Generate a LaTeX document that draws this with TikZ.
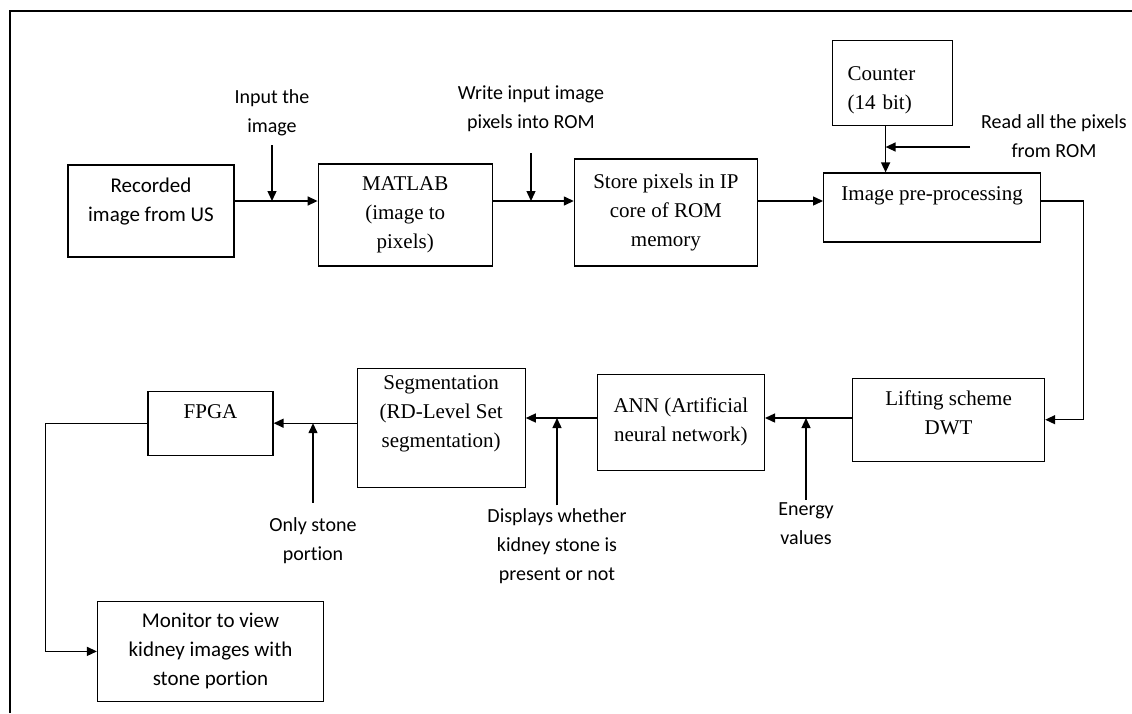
\documentclass[tikz,border=0pt]{standalone}
\usepackage{fontspec}
\setmainfont{Liberation Serif}
\newfontfamily\calibri[Ligatures=NoCommon]{Carlito}
\usetikzlibrary{arrows.meta, positioning}

\begin{document}
\begin{tikzpicture}[
        x=1pt, y=-1pt,
        font=\fontsize{21}{29}\selectfont,
        block/.style={rectangle, draw, line width=1.2pt, align=center, inner sep=3pt},
        sblock/.style={block, font=\calibri\fontsize{21}{29}\selectfont},
        note/.style={align=center, inner sep=3pt, font=\calibri\fontsize{20}{29}\selectfont},
        line/.style={draw, line width=1.4pt, -{Triangle[length=10pt, width=9pt]}}
        ]
        \useasboundingbox (0,0) rectangle (1132,713);
        % Frame
        \draw[line width=2pt] (10,713) -- (10,11) -- (1132,11);

        % Nodes
        \node [sblock, minimum width=166pt, minimum height=92pt, text depth=23pt] (rec) at (151,211) {Recorded\\image from US};
        \node [block, minimum width=174pt, minimum height=102pt, right=83pt of rec, yshift=-4pt] (mat) {MATLAB\\(image to\\pixels)};
        \node [block, minimum width=183pt, minimum height=107pt, right=81pt of mat, yshift=2.5pt] (store) {Store pixels in IP\\core of ROM\\memory};
        \node [block, minimum width=217pt, minimum height=69pt, text depth=28pt, right=65pt of store, yshift=5pt] (pre) {Image pre-processing};
        \node [block, minimum width=120pt, minimum height=85pt, text width=90pt, align=left, inner xsep=15pt, text depth=20pt, above=46pt of pre, xshift=-39.5pt] (cnt) {Counter\\(14 bit)};
        \node [block, minimum width=192pt, minimum height=83pt, text depth=15pt, below=135pt of pre, xshift=16.5pt] (lift) {Lifting scheme\\DWT};
        \node [block, minimum width=167pt, minimum height=96pt, left=87pt of lift, yshift=-2.5pt] (ann) {ANN (Artificial\\neural network)};
        \node [block, minimum width=168pt, minimum height=119pt, text depth=32pt, left=71pt of ann, yshift=-5.5pt] (seg) {Segmentation\\(RD-Level Set\\segmentation)};
        \node [block, minimum width=125pt, minimum height=64pt, text depth=24pt, left=83pt of seg, yshift=4.5pt] (fpga) {FPGA};
        \node [sblock, minimum width=226pt, minimum height=100pt, below=145pt of fpga] (mon) {Monitor to view\\kidney images with\\stone portion};

        % Labels
        \node [note] (inlab) at (272,113) {Input the\\image};
        \node [note] (wlab) at (531,109) {Write input image\\pixels into ROM};
        \node [note] (rlab) at (1054,136) {Read all the pixels\\from ROM};
        \node [note] (elab) at (806,524) {Energy\\values};
        \node [note] (dlab) at (557,546) {Displays whether\\kidney stone is\\present or not};
        \node [note] (olab) at (313,541) {Only stone\\portion};

        \coordinate (row1) at (0,201);
        \coordinate (row2) at (0,418);
        \coordinate (cpt) at ([xshift=-7pt]cnt.south);
        \coordinate (rd) at (970,147);

        % Edges
        \path [line] (rec.east |- row1) -- (mat.west |- row1);
        \path [line] (mat.east |- row1) -- (store.west |- row1);
        \path [line] (store.east |- row1) -- (pre.west |- row1);
        \path [line, shorten <=6pt] (inlab) -- (inlab |- row1);
        \path [line, shorten <=18pt] (wlab) -- (wlab |- row1);
        \path [line] (cpt) -- (cpt |- pre.north);
        \path [line] (rd) -- (rd -| cpt);
        \path [line] (pre.east |- row1) -- ++(42,0) |- (lift.east);
        \path [line] (lift.west |- row2) -- (ann.east |- row2);
        \path [line] (ann.west |- row2) -- (seg.east |- row2);
        \path [line] (seg.west |- fpga.east) -- (fpga.east);
        \path [line] (fpga.west) -- ++(-102,0) |- (mon.west);
        \path [line] (elab) -- (elab |- row2);
        \path [line] (dlab) -- (dlab |- row2);
        \path [line, shorten <=12pt] (olab) -- (olab |- fpga.east);
    \end{tikzpicture}
\end{document}
